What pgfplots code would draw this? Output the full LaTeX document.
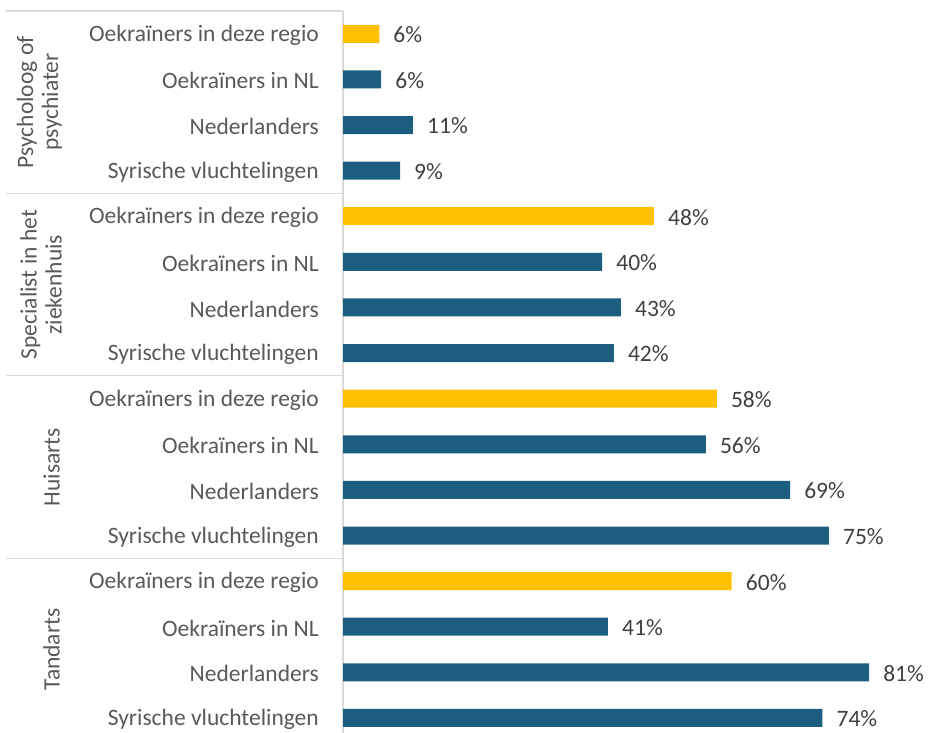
\documentclass[border=0pt]{standalone}
\usepackage{fontspec}
\setmainfont{Carlito}
\usepackage{pgfplots}
\pgfplotsset{compat=1.18}
\definecolor{ybar}{HTML}{FFC000}
\definecolor{bbar}{HTML}{1B5E80}
\definecolor{sep}{HTML}{D9D9D9}
\definecolor{lab}{HTML}{595959}
\definecolor{val}{HTML}{404040}
\newcommand{\lf}{\fontsize{23.5bp}{25bp}\selectfont}
\begin{document}
\begin{tikzpicture}
\begin{axis}[
  at={(343bp,0bp)}, anchor=south west,
  scale only axis, width=587bp, height=722bp,
  xmin=0, xmax=90.6, ymin=-0.33, ymax=15.5,
  xbar, bar width=18bp, bar shift=0pt,
  axis x line=none, axis y line*=left,
  y axis line style={draw=sep, line width=1.2bp, -},
  ytick={0,...,15}, major tick length=0pt,
  yticklabels={Syrische vluchtelingen, Nederlanders, Oekraïners in NL, Oekraïners in deze regio,
               Syrische vluchtelingen, Nederlanders, Oekraïners in NL, Oekraïners in deze regio,
               Syrische vluchtelingen, Nederlanders, Oekraïners in NL, Oekraïners in deze regio,
               Syrische vluchtelingen, Nederlanders, Oekraïners in NL, Oekraïners in deze regio},
  yticklabel style={font=\lf, text=lab, inner sep=0pt, xshift=-24bp, yshift=-1.5bp},
  point meta=x,
  nodes near coords={\pgfmathprintnumber[fixed,precision=0,assume math mode=true]{\pgfplotspointmeta}\%},
  nodes near coords style={anchor=west, inner sep=0pt, xshift=14bp, yshift=-1bp, font=\lf, text=val},
  clip=false,
]
\addplot[fill=bbar, draw=none] coordinates {
  (74,0) (81.2,1) (40.9,2)
  (75,4) (69,5) (56,6)
  (41.8,8) (42.9,9) (40,10)
  (8.8,12) (10.8,13) (5.9,14)
};
\addplot[fill=ybar, draw=none] coordinates {
  (60,3) (57.7,7) (48,11) (5.6,15)
};
\draw[sep, line width=1.2bp] ([xshift=-337bp]axis cs:0,15.5) -- (axis cs:0,15.5);
\draw[sep, line width=1.2bp] ([xshift=-337bp]axis cs:0,11.5) -- (axis cs:0,11.5);
\draw[sep, line width=1.2bp] ([xshift=-337bp]axis cs:0,7.5) -- (axis cs:0,7.5);
\draw[sep, line width=1.2bp] ([xshift=-337bp]axis cs:0,3.5) -- (axis cs:0,3.5);
\node[rotate=90, anchor=south, inner sep=0pt, align=center, font=\lf, text=lab] at ([xshift=-281bp]axis cs:0,13.5) {Psycholoog of\\psychiater};
\node[rotate=90, anchor=south, inner sep=0pt, align=center, font=\lf, text=lab] at ([xshift=-281bp]axis cs:0,9.5) {Specialist in het\\ziekenhuis};
\node[rotate=90, anchor=south, inner sep=0pt, align=center, font=\lf, text=lab] at ([xshift=-283bp]axis cs:0,5.5) {Huisarts};
\node[rotate=90, anchor=south, inner sep=0pt, align=center, font=\lf, text=lab] at ([xshift=-283bp]axis cs:0,1.5) {Tandarts};
\end{axis}
\pgfresetboundingbox
\useasboundingbox (0,0) rectangle (930bp,733bp);
\end{tikzpicture}
\end{document}
